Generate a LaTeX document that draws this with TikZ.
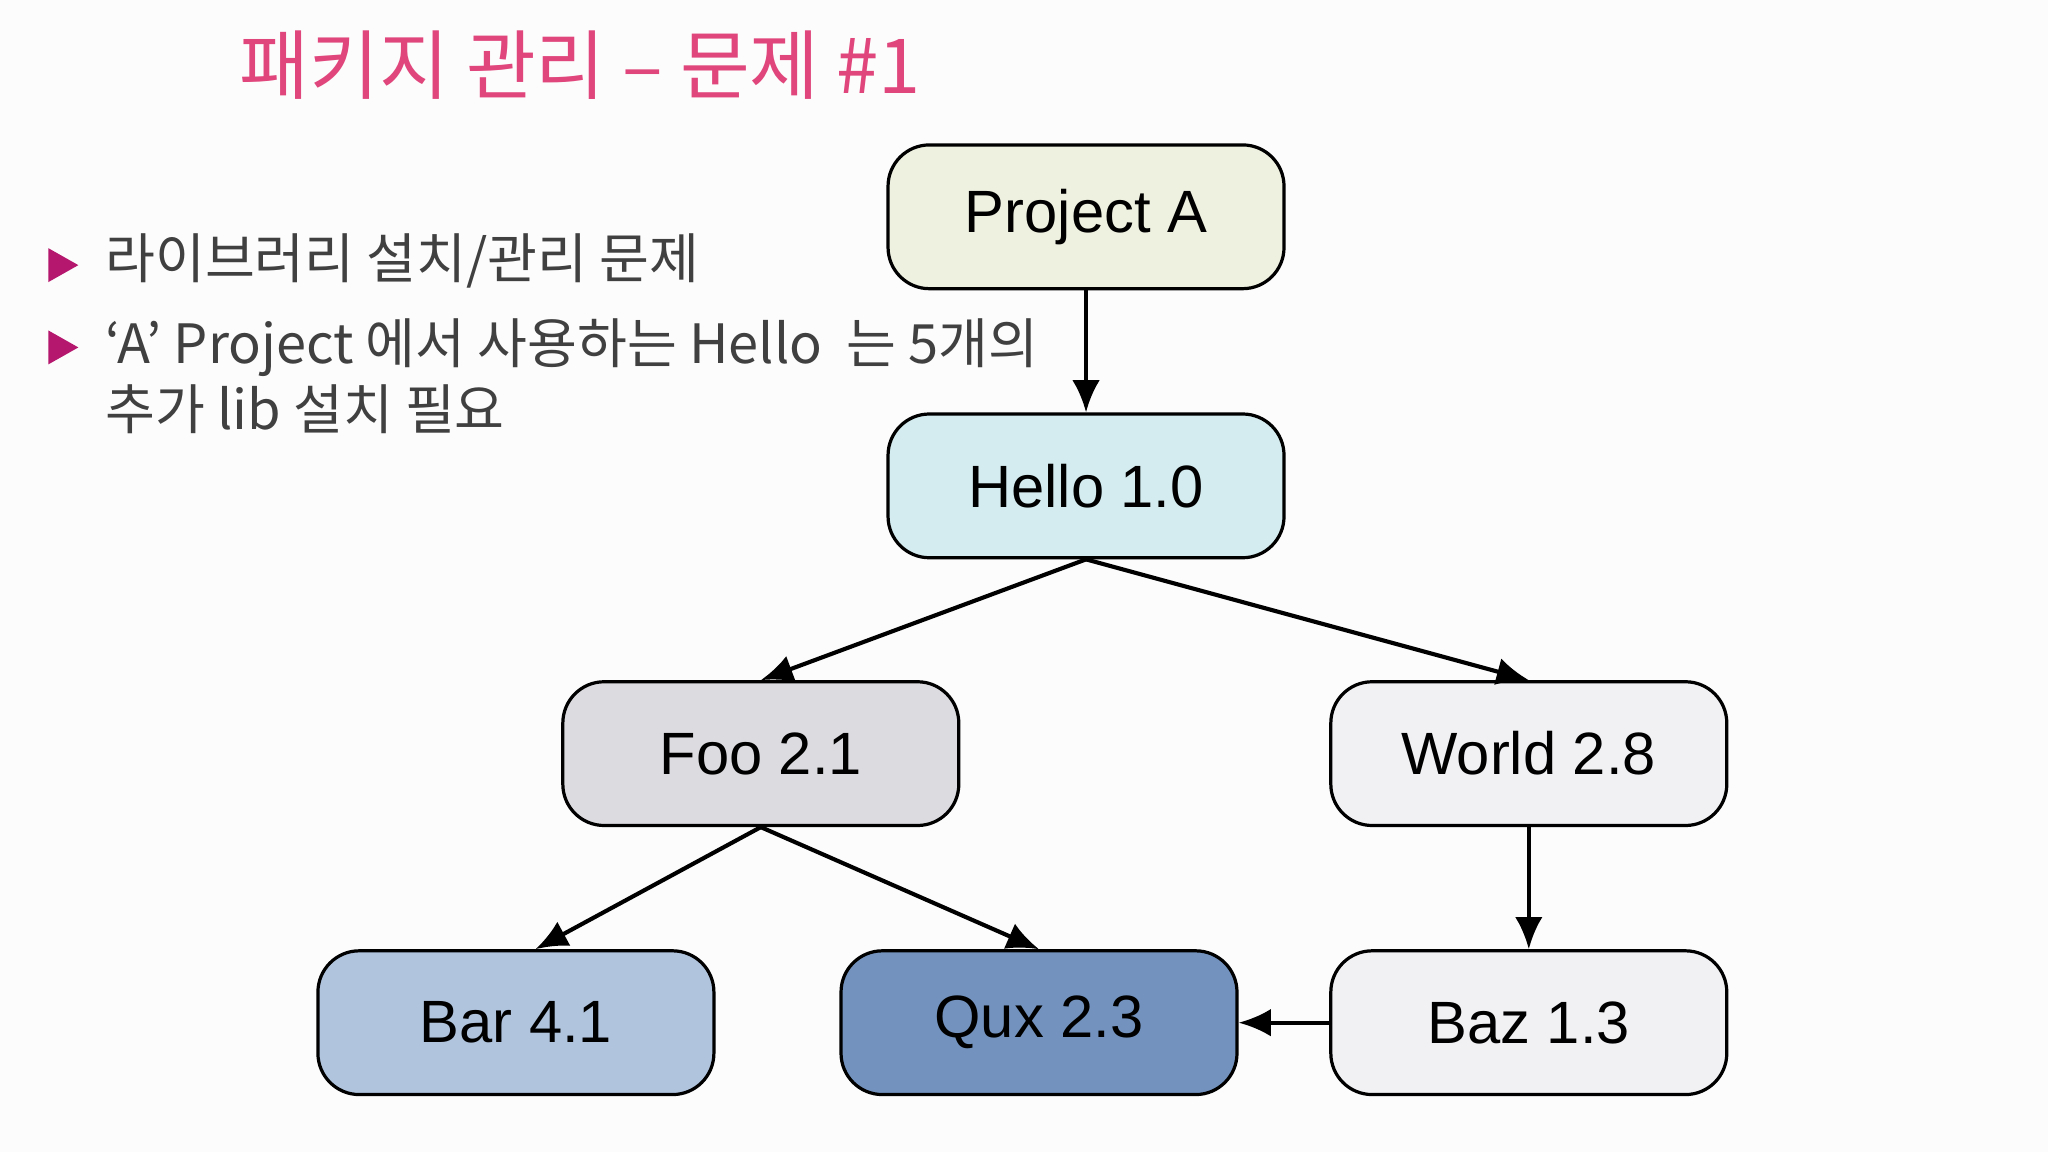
\documentclass[tikz,border=0pt]{standalone}
\usepackage{fontspec}
\setmainfont{Liberation Sans}
\newfontfamily\kr{Noto Sans CJK KR}
\usetikzlibrary{arrows.meta}
\definecolor{ttl}{HTML}{E0457B}
\definecolor{bul}{HTML}{B5176E}
\definecolor{txt}{HTML}{404040}
\begin{document}
\begin{tikzpicture}[x=0.01cm,y=-0.01cm,
  box/.style={draw=black,line width=0.7pt,rounded corners=9pt,minimum width=3.03cm,minimum height=1.10cm,inner sep=0pt,font=\fontsize{13}{15}\selectfont},
  arr/.style={-{Latex[length=7pt,width=6pt]},line width=0.9pt},
  bt/.style={anchor=west,text=txt,font=\kr\fontsize{11.8}{14.5}\selectfont,inner sep=0pt,align=left}]
\useasboundingbox (0,0) rectangle (1568,882);
\fill[white!98!gray] (0,0) rectangle (1568,882);
\node[anchor=west,text=ttl,font=\kr\fontsize{16.5}{20}\selectfont,inner sep=0pt] (title) at (183,50) {패키지 관리 – 문제 \#1};
\node[bt] (b1) at (80,200) {라이브러리 설치/관리 문제};
\node[bt,anchor=north west] (b2) at (80,243) {‘A’ Project 에서 사용하는 Hello \ 는 5개의\\추가 lib 설치 필요};
\fill[bul] (37,190) -- (60,203) -- (37,216) -- cycle;
\fill[bul] (37,253) -- (60,266) -- (37,279) -- cycle;
\node[box,fill={rgb,255:red,238;green,241;blue,224}] (pa) at (831.5,166) {Project A};
\node[box,fill={rgb,255:red,212;green,236;blue,239}] (he) at (831.5,372) {Hello 1.0};
\node[box,fill={rgb,255:red,220;green,219;blue,223}] (foo) at (582.5,577) {Foo 2.1};
\node[box,fill={rgb,255:red,241;green,240;blue,243}] (wo) at (1170.5,577) {World 2.8};
\node[box,fill={rgb,255:red,176;green,196;blue,222}] (bar) at (395,783) {Bar 4.1};
\node[box,fill={rgb,255:red,115;green,147;blue,190}] (qux) at (795.5,783) {Qux 2.3};
\node[box,fill={rgb,255:red,241;green,240;blue,243}] (baz) at (1170.5,783) {Baz 1.3};
\draw[arr] (pa.south) -- (he.north);
\draw[arr] (he.south) -- (foo.north);
\draw[arr] (he.south) -- (wo.north);
\draw[arr] (foo.south) -- ([xshift=0.15cm]bar.north);
\draw[arr] (foo.south) -- (qux.north);
\draw[arr] (wo.south) -- (baz.north);
\draw[arr] (baz.west) -- (qux.east);
\end{tikzpicture}
\end{document}
